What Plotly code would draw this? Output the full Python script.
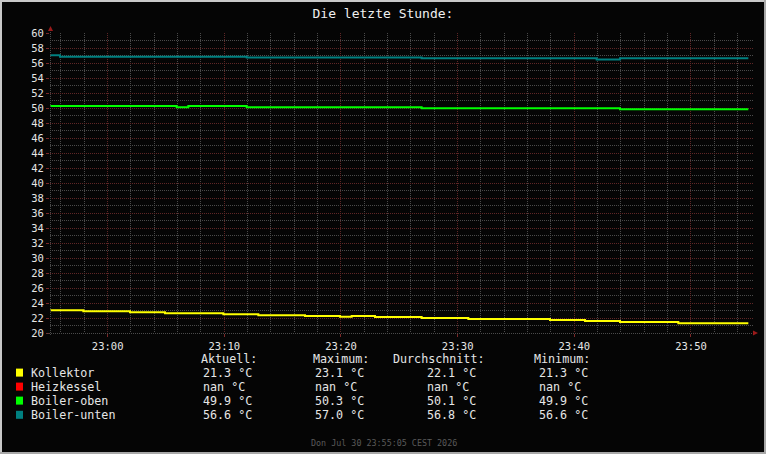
import plotly.graph_objects as go

DAY = "2026-07-30 "

# ---------------- data ----------------
kollektor_t = ["22:55:05", "22:57:55", "23:01:55", "23:04:55", "23:09:55", "23:12:55",
               "23:16:55", "23:19:55", "23:20:55", "23:22:55", "23:26:55", "23:30:55",
               "23:37:55", "23:40:55", "23:43:55", "23:48:55", "23:54:55"]
kollektor_v = [23.03, 22.90, 22.77, 22.63, 22.50, 22.37, 22.27, 22.17, 22.27, 22.14,
               22.01, 21.87, 21.74, 21.61, 21.47, 21.30, 21.30]

heizkessel_t = ["22:55:05", "23:54:55"]
heizkessel_v = [None, None]

boiler_oben_t = ["22:55:05", "23:05:55", "23:06:55", "23:11:55", "23:26:55", "23:43:55", "23:54:55"]
boiler_oben_v = [50.27, 50.10, 50.27, 50.10, 49.97, 49.83, 49.83]

boiler_unten_t = ["22:55:05", "22:55:55", "23:11:55", "23:26:55", "23:41:55", "23:43:55", "23:54:55"]
boiler_unten_v = [57.05, 56.85, 56.72, 56.62, 56.47, 56.62, 56.62]

names = ["Kollektor", "Heizkessel", "Boiler-oben", "Boiler-unten"]
colors = ["#ffff00", "#ff0000", "#00ff00", "#008080"]
stat_headers = ["Aktuell:", "Maximum:", "Durchschnitt:", "Minimum:"]
aktuell = [21.3, None, 49.9, 56.6]
maximum = [23.1, None, 50.3, 57.0]
durchschnitt = [22.1, None, 50.1, 56.8]
minimum = [21.3, None, 49.9, 56.6]

title_text = "Die letzte Stunde:"
footer_text = "Don Jul 30 23:55:05 CEST 2026"
x_range = ["22:55:03.5", "23:55:19"]
y_range = [20, 60]

# ---------------- layout geometry ----------------
W, H = 766, 454
L, T, R, B = 50, 33, 753, 333
def px(x):
    return (x - L) / (R - L)
def py(y):
    return (B - y) / (B - T)

MONO = "DejaVu Sans Mono"
TXT = "#e6e6e6"
MGRID = "#5e2626"
GRID = "#4a4a4a"

fig = go.Figure()
series = [(kollektor_t, kollektor_v), (heizkessel_t, heizkessel_v),
          (boiler_oben_t, boiler_oben_v), (boiler_unten_t, boiler_unten_v)]
for (ts, vs), name, col in zip(series, names, colors):
    fig.add_trace(go.Scatter(
        x=[DAY + t for t in ts], y=vs, name=name, mode="lines",
        line=dict(color=col, width=2, shape="hv"), showlegend=False,
        hoverinfo="skip"))

shapes = []
# frame
shapes.append(dict(type="rect", xref="paper", yref="paper", x0=px(0), x1=px(W), y0=py(0), y1=py(2),
                   fillcolor="#c8c8c8", line=dict(width=0)))
shapes.append(dict(type="rect", xref="paper", yref="paper", x0=px(0), x1=px(2), y0=py(0), y1=py(H),
                   fillcolor="#c8c8c8", line=dict(width=0)))
shapes.append(dict(type="rect", xref="paper", yref="paper", x0=px(0), x1=px(W), y0=py(H - 2), y1=py(H),
                   fillcolor="#a8a8a8", line=dict(width=0)))
shapes.append(dict(type="rect", xref="paper", yref="paper", x0=px(W - 2), x1=px(W), y0=py(0), y1=py(H),
                   fillcolor="#a8a8a8", line=dict(width=0)))
# axis lines
shapes.append(dict(type="line", xref="paper", yref="paper", x0=px(47), x1=px(753), y0=py(333.5), y1=py(333.5),
                   line=dict(color=GRID, width=1, dash="1px,1px")))
shapes.append(dict(type="line", xref="paper", yref="paper", x0=px(50.5), x1=px(50.5), y0=py(30), y1=py(336),
                   line=dict(color=GRID, width=1, dash="1px,1px")))
# arrows
shapes.append(dict(type="path", xref="paper", yref="paper",
                   path=f"M {px(48)},{py(31)} L {px(50.5)},{py(26)} L {px(53)},{py(31)} Z",
                   fillcolor="#9a1a1a", line=dict(width=0)))
shapes.append(dict(type="path", xref="paper", yref="paper",
                   path=f"M {px(753)},{py(330.5)} L {px(758)},{py(333)} L {px(753)},{py(335.5)} Z",
                   fillcolor="#9a1a1a", line=dict(width=0)))

annotations = []
# legend
rows_y = [372.6, 386.6, 400.6, 414.8]
head_x = [199, 311, 391, 532]
val_x = [201, 313, 425, 537]
LF = 11.7
for hx, h in zip(head_x, stat_headers):
    annotations.append(dict(x=px(hx), y=py(359.3), xref="paper", yref="paper", text=h, showarrow=False,
                            xanchor="left", yanchor="middle", font=dict(family=MONO, size=LF, color=TXT)))
def fmt(v):
    return "nan °C" if v is None else f"{v:.1f} °C"
for i, (name, col) in enumerate(zip(names, colors)):
    yy = rows_y[i]
    shapes.append(dict(type="rect", xref="paper", yref="paper", x0=px(16), x1=px(23),
                       y0=py(yy - 4), y1=py(yy + 4), fillcolor=col, line=dict(width=0)))
    annotations.append(dict(x=px(29), y=py(yy), xref="paper", yref="paper", text=name, showarrow=False,
                            xanchor="left", yanchor="middle", font=dict(family=MONO, size=LF, color=TXT)))
    for vx, arr in zip(val_x, [aktuell, maximum, durchschnitt, minimum]):
        annotations.append(dict(x=px(vx), y=py(yy), xref="paper", yref="paper", text=fmt(arr[i]),
                                showarrow=False, xanchor="left", yanchor="middle",
                                font=dict(family=MONO, size=LF, color=TXT)))
# footer
annotations.append(dict(x=px(384), y=py(443), xref="paper", yref="paper", text=footer_text, showarrow=False,
                        xanchor="center", yanchor="middle", font=dict(family=MONO, size=8.4, color="#5a5a5a")))

fig.update_layout(
    width=W, height=H,
    margin=dict(l=L, r=W - R, t=T, b=H - B, pad=0),
    paper_bgcolor="#050505", plot_bgcolor="#050505",
    title=dict(text=title_text, x=0.5, xref="container", xanchor="center",
               y=1 - 13.5 / H, yref="container", yanchor="middle",
               font=dict(family=MONO, size=13, color="#f0f0f0")),
    xaxis=dict(type="date", range=[DAY + x_range[0], DAY + x_range[1]],
               tick0=DAY + "23:00:00", dtick=600000, tickformat="%H:%M",
               showgrid=True, gridcolor=MGRID, griddash="1px,1px", gridwidth=1,
               ticks="outside", ticklen=3, tickcolor="#7a2828", showline=False, zeroline=False,
               tickfont=dict(family=MONO, size=10.5, color=TXT),
               minor=dict(tick0=DAY + "23:00:00", dtick=120000, showgrid=True, gridcolor=GRID,
                          griddash="1px,1px", gridwidth=1)),
    yaxis=dict(range=y_range, dtick=2, tick0=20,
               showgrid=True, gridcolor=MGRID, griddash="1px,1px", gridwidth=1,
               ticks="outside", ticklen=3, tickcolor="#7a2828", showline=False, zeroline=False,
               tickfont=dict(family=MONO, size=10.5, color=TXT),
               minor=dict(dtick=1, showgrid=True, gridcolor=GRID, griddash="1px,1px", gridwidth=1)),
    shapes=shapes, annotations=annotations,
)

fig.write_html("out.html")
